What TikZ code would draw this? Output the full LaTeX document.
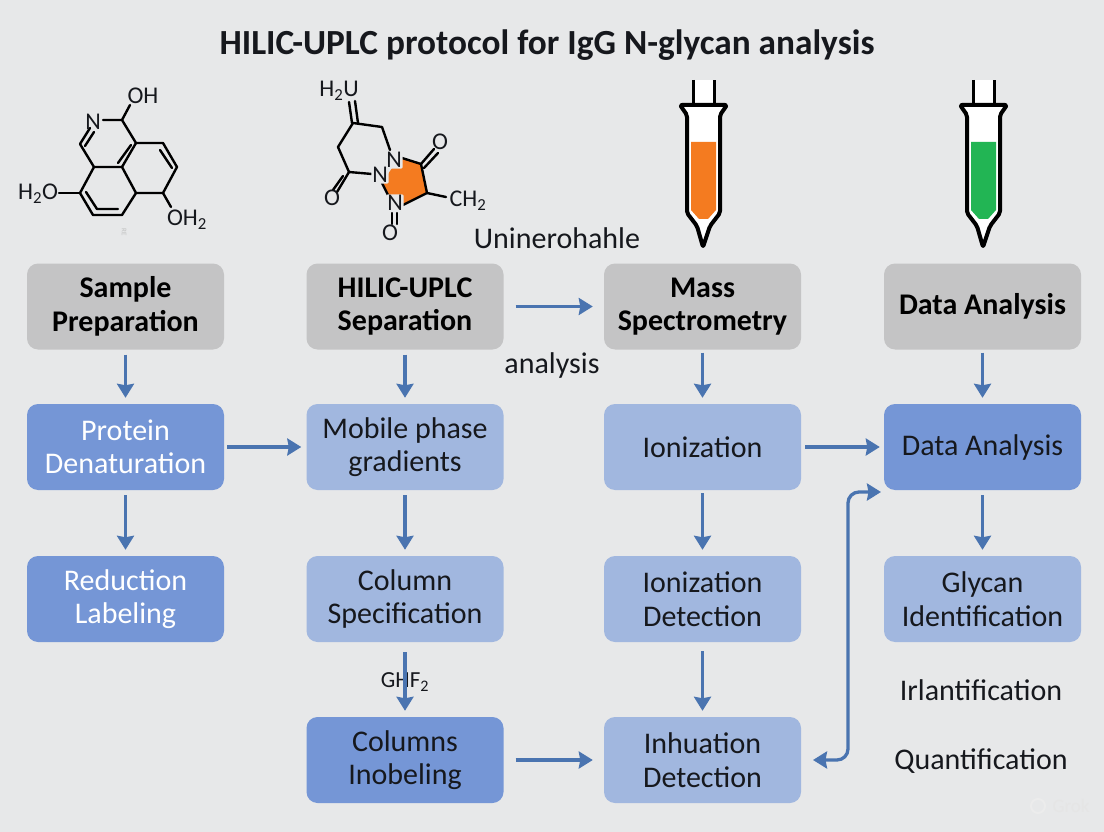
\documentclass[tikz,border=0pt]{standalone}
\usepackage{fontspec}
\setmainfont{Carlito}
\usetikzlibrary{arrows.meta}
\begin{document}
\begin{tikzpicture}[x=1pt,y=-1pt]
% Styles
\tikzstyle{boite}=[rounded corners=11pt,minimum width=197pt,minimum height=86pt,align=center,font=\fontsize{30}{33.5}\selectfont]
\tikzstyle{grise}=[boite,fill=boxgris,text=black,font=\fontsize{30}{33.5}\selectfont\bfseries]
\tikzstyle{foncee}=[boite,fill=boxfonce,text=white]
\tikzstyle{moyenne}=[boite,fill=boxfonce,text=texte]
\tikzstyle{claire}=[boite,fill=boxclair,text=texte]
\tikzstyle{fleche}=[-{Stealth[length=14pt,width=17pt,inset=1.5pt]},line width=3.3pt,color=bleu]
\tikzstyle{libre}=[font=\fontsize{30}{33}\selectfont,text=texte]
\tikzstyle{trait}=[line width=2.4pt,color=black,line cap=round,line join=round]
\tikzstyle{tube}=[line width=4pt,color=black,line join=round,fill=white]
\tikzstyle{atome}=[font=\fontsize{24}{28}\selectfont,text=texte,inner sep=0pt]
% Couleurs
\definecolor{fond}{HTML}{E7E8E9}
\definecolor{boxgris}{HTML}{C4C4C5}
\definecolor{boxfonce}{HTML}{7596D6}
\definecolor{boxclair}{HTML}{A1B7DF}
\definecolor{bleu}{HTML}{4A74B0}
\definecolor{texte}{HTML}{16181D}
\definecolor{orange}{HTML}{F47B20}
\definecolor{vert}{HTML}{22B554}
% Dimensions
\def\colA{125.5}
\def\colB{405}
\def\colC{702.5}
\def\colD{982.5}
\def\rowA{306.5}
\def\rowB{447}
\def\rowC{599}
\def\rowD{760}
% Fond
\fill[fond] (0,0) rectangle (1104,832);
\node[font=\fontsize{35.3}{40}\selectfont\bfseries,text=texte] (titre) at (547,45) {HILIC-UPLC protocol for IgG N-glycan analysis};
% Ligne du haut
\node[grise] (sample) at (\colA,\rowA) {Sample\\Preparation};
\node[grise] (hilic) at (\colB,\rowA) {HILIC-UPLC\\Separation};
\node[grise] (mass) at (\colC,\rowA) {Mass\\Spectrometry};
\node[grise] (dataA) at (\colD,\rowA) {Data Analysis};
% Deuxieme ligne
\node[foncee] (protein) at (\colA,\rowB) {Protein\\Denaturation};
\node[claire] (mobile) at (\colB,\rowB) {Mobile phase\\gradients};
\node[claire] (ionA) at (\colC,\rowB) {Ionization};
\node[moyenne] (dataB) at (\colD,\rowB) {Data Analysis};
% Troisieme ligne
\node[foncee] (reduction) at (\colA,\rowC) {Reduction\\Labeling};
\node[claire] (column) at (\colB,\rowC) {Column\\Specification};
\node[claire] (ionB) at (\colC,\rowC) {Ionization\\Detection};
\node[claire] (glycan) at (\colD,\rowC) {Glycan\\Identification};
% Quatrieme ligne
\node[moyenne] (columns) at (\colB,\rowD) {Columns\\Inobeling};
\node[claire] (inhuation) at (\colC,\rowD) {Inhuation\\Detection};
% Textes libres
\node[libre] (unine) at (557,238) {Uninerohahle};
\node[libre] (analysis) at (552,366) {analysis};
\node[libre] (irlant) at (981,690) {Irlantification};
\node[libre] (quant) at (981,761) {Quantification};
\node[font=\fontsize{23}{26}\selectfont,text=texte] (ghf) at (405,682) {GHF\textsubscript{2}};
% Fleches verticales
\draw[fleche,shorten <=5pt,shorten >=6pt] (sample) -- (protein);
\draw[fleche,shorten <=5pt,shorten >=6pt] (hilic) -- (mobile);
\draw[fleche,shorten <=3pt,shorten >=6pt] (mass) -- (ionA);
\draw[fleche,shorten <=3pt,shorten >=6pt] (dataA) -- (dataB);
\draw[fleche,shorten <=5pt,shorten >=6pt] (protein) -- (reduction);
\draw[fleche,shorten <=5pt,shorten >=6pt] (mobile) -- (column);
\draw[fleche,shorten <=3pt,shorten >=6pt] (ionA) -- (ionB);
\draw[fleche,shorten <=5pt,shorten >=6pt] (dataB) -- (glycan);
\draw[fleche,shorten <=9pt,shorten >=6pt] (ionB) -- (inhuation);
\draw[fleche,shorten <=10pt,shorten >=6pt] (column) -- (columns);
% Fleches horizontales
\draw[fleche,shorten <=3pt,shorten >=5pt] (protein) -- (mobile);
\draw[fleche,shorten <=12pt,shorten >=11pt] (hilic) -- (mass);
\draw[fleche,shorten <=4pt,shorten >=4pt] (ionA) -- (dataB);
\draw[fleche,shorten <=12pt,shorten >=11pt] (columns) -- (inhuation);
% Retour
\coordinate (retourA) at (813,760);
\coordinate (retourB) at (881,492);
\draw[fleche,{Stealth[length=14pt,width=17pt,inset=1.5pt]}-{Stealth[length=14pt,width=17pt,inset=1.5pt]},rounded corners=11pt] (retourA) -- (848,760) -- (848,492) -- (retourB);
% Molecule de gauche
\draw[trait] (122,120) -- (130,105);
\draw[trait] (103,120) -- (122,120) -- (136,143) -- (163,143) -- (177,167) -- (163,193) -- (136,193) -- (122,167) -- (94,167) -- (80,144);
\draw[trait] (136,143) -- (122,167);
\draw[trait] (131,145) -- (118,163);
\draw[trait] (160,150) -- (172,168);
\draw[trait] (80,144) -- (90,128);
\draw[trait] (85,146) -- (94,132);
\draw[trait] (94,167) -- (80,193) -- (93,215) -- (122,215) -- (136,193);
\draw[trait] (86,192) -- (97,209) -- (118,209);
\draw[trait] (80,193) -- (59,193);
\draw[trait] (163,193) -- (171,207);
\node[atome] (nA) at (93,122) {N};
\node[atome] (ohA) at (143,96) {OH};
\node[atome] (eauA) at (38,194) {H\textsubscript{2}O};
\node[atome] (ohB) at (187,220) {OH\textsubscript{2}};
\node[font=\fontsize{7}{8}\selectfont,text=gray!50,rotate=-90] (marque) at (124,232) {RE};
% Molecule du milieu
\fill[orange] (402,158) -- (421,164) -- (427,193) -- (403,205) -- (388,195) -- (382,183) -- (392,168) -- cycle;
\draw[trait] (402,158) -- (421,164) -- (427,193) -- (403,205);
\draw[trait] (349,102) -- (352,123);
\draw[trait] (355,101) -- (358,123);
\draw[trait] (390,150) -- (382,127) -- (353,123) -- (338,147) -- (349,172) -- (372,174);
\draw[trait] (349,172) -- (337,192);
\draw[trait] (343,176) -- (333,190);
\draw[trait] (421,164) -- (434,149);
\draw[trait] (424,168) -- (438,153);
\draw[trait] (427,193) -- (446,197);
\draw[trait] (382,183) -- (388,195);
\draw[trait] (392,213) -- (392,224);
\draw[trait] (397,213) -- (397,224);
\node[atome] (eauB) at (339,91) {H\textsubscript{2}U};
\node[atome,fill=fond,inner sep=1pt,rounded corners=2pt] (nB) at (394,160) {N};
\node[atome,fill=fond,inner sep=1pt,rounded corners=2pt] (nC) at (380,175) {N};
\node[atome,fill=fond,inner sep=1pt,rounded corners=2pt] (nD) at (395,203) {N};
\node[atome] (oA) at (440,142) {O};
\node[atome] (oB) at (332,198) {O};
\node[atome] (oC) at (390,233) {O};
\node[atome] (ch) at (468,201) {CH\textsubscript{2}};
% Tubes
\foreach \dx/\coul in {0/orange,280/vert}{
\fill[white] (693+\dx,80) rectangle (714+\dx,104);
\draw[line width=3pt] (693+\dx,80) -- (693+\dx,104) (714+\dx,104) -- (714+\dx,80);
\draw[tube,rounded corners=2pt] (680+\dx,105) -- (727+\dx,105) -- (720+\dx,115) -- (720+\dx,213) -- (710+\dx,226) -- (703+\dx,247) -- (697+\dx,226) -- (687+\dx,213) -- (687+\dx,115) -- cycle;
\fill[\coul] (691+\dx,142) -- (716+\dx,142) -- (716+\dx,210) -- (708+\dx,219) -- (699+\dx,219) -- (691+\dx,210) -- cycle;
}
% Marque
\draw[line width=2pt,color=gray!15] (1038,806) circle (7);
\node[font=\fontsize{19}{22}\selectfont,text=gray!20] (grok) at (1071,806) {Grok};
\end{tikzpicture}
\end{document}
